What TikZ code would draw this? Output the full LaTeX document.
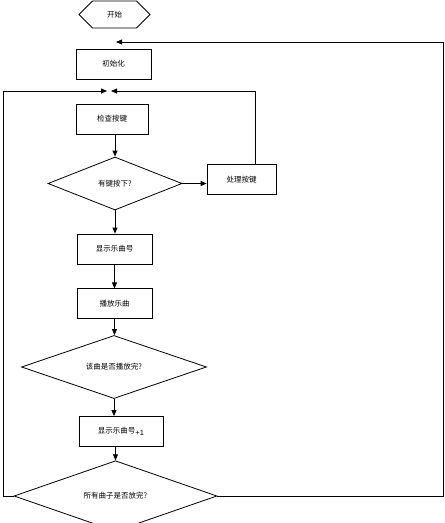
\documentclass[tikz,border=0pt]{standalone}
\usepackage{fontspec}
\newfontfamily\cjk{Noto Sans CJK SC}
\usepackage{tikz}
\usetikzlibrary{shapes.geometric, shapes.symbols, arrows.meta, positioning, calc}

\begin{document}
\begin{tikzpicture}[
    x=1pt, y=-1pt,
    line width=0.8pt,
    node distance=23pt and 25pt,
    every node/.style={font=\cjk\fontsize{7.5}{9}\selectfont},
    stepbox/.style={rectangle, draw, minimum height=30pt, inner sep=0pt, align=center},
    decision/.style={diamond, draw, minimum height=52pt, inner sep=0pt, align=center},
    terminal/.style={signal, signal to=west and east, draw, minimum width=71pt, minimum height=27pt, inner sep=0pt},
    arrow/.style={-{Triangle[length=6pt,width=5pt]}}
]
\useasboundingbox (0,0) rectangle (445,523);

% Start
\node[terminal] (start) at (114.5,14.5) {开始};

% Main column
\node[stepbox, minimum width=75pt] (init) at (113.5,64) {初始化};
\node[stepbox, minimum width=72pt] (check) at (112,119) {检查按键};
\node[decision, minimum width=134pt, minimum height=53pt] (haskey) at (115,183.5) {有键按下?};
\node[stepbox, minimum width=69pt] (handle) at (241.5,179.5) {处理按键};
\node[stepbox, minimum width=75pt] (show) at (114.5,249) {显示乐曲号};
\node[stepbox, minimum width=75pt, below=24pt of show] (play) {播放乐曲};
\node[decision, minimum width=185pt] (songdone) at (114,367) {该曲是否播放完?};
\node[stepbox, minimum width=84pt] (next) at (121,431.5) {显示乐曲号\raisebox{-2.5pt}{\fontspec{Liberation Sans}+1}};
\node[decision, minimum width=203pt] (alldone) at (115.5,496) {所有曲子是否放完?};

% Loop points
\coordinate (topin) at (116,42);
\coordinate (loopL) at (107,91);
\coordinate (loopR) at (111,91);
\coordinate (leftx) at (3,0);
\coordinate (rightx) at (443,0);
\coordinate (hup) at (255.5,91);

% Arrows
\draw[arrow] (check.south -| haskey.north) -- (haskey.north);
\draw[arrow] (haskey.east) -- (haskey.east -| handle.west);
\draw[arrow] (handle.north -| hup) -- (hup) -- (loopR);
\draw[arrow] (haskey.south) -- (haskey.south |- show.north);
\draw[arrow] (show) -- (play);
\draw[arrow] (play.south) -- (play.south |- songdone.north);
\draw[arrow] (songdone.south) -- (songdone.south |- next.north);
\draw[arrow] (next.south -| alldone.north) -- (alldone.north);
\draw[arrow] (alldone.west) -- (alldone.west -| leftx) -- (loopL -| leftx) -- (loopL);
\draw[arrow] (alldone.east) -- (alldone.east -| rightx) -- (topin -| rightx) -- (topin);

\end{tikzpicture}
\end{document}
